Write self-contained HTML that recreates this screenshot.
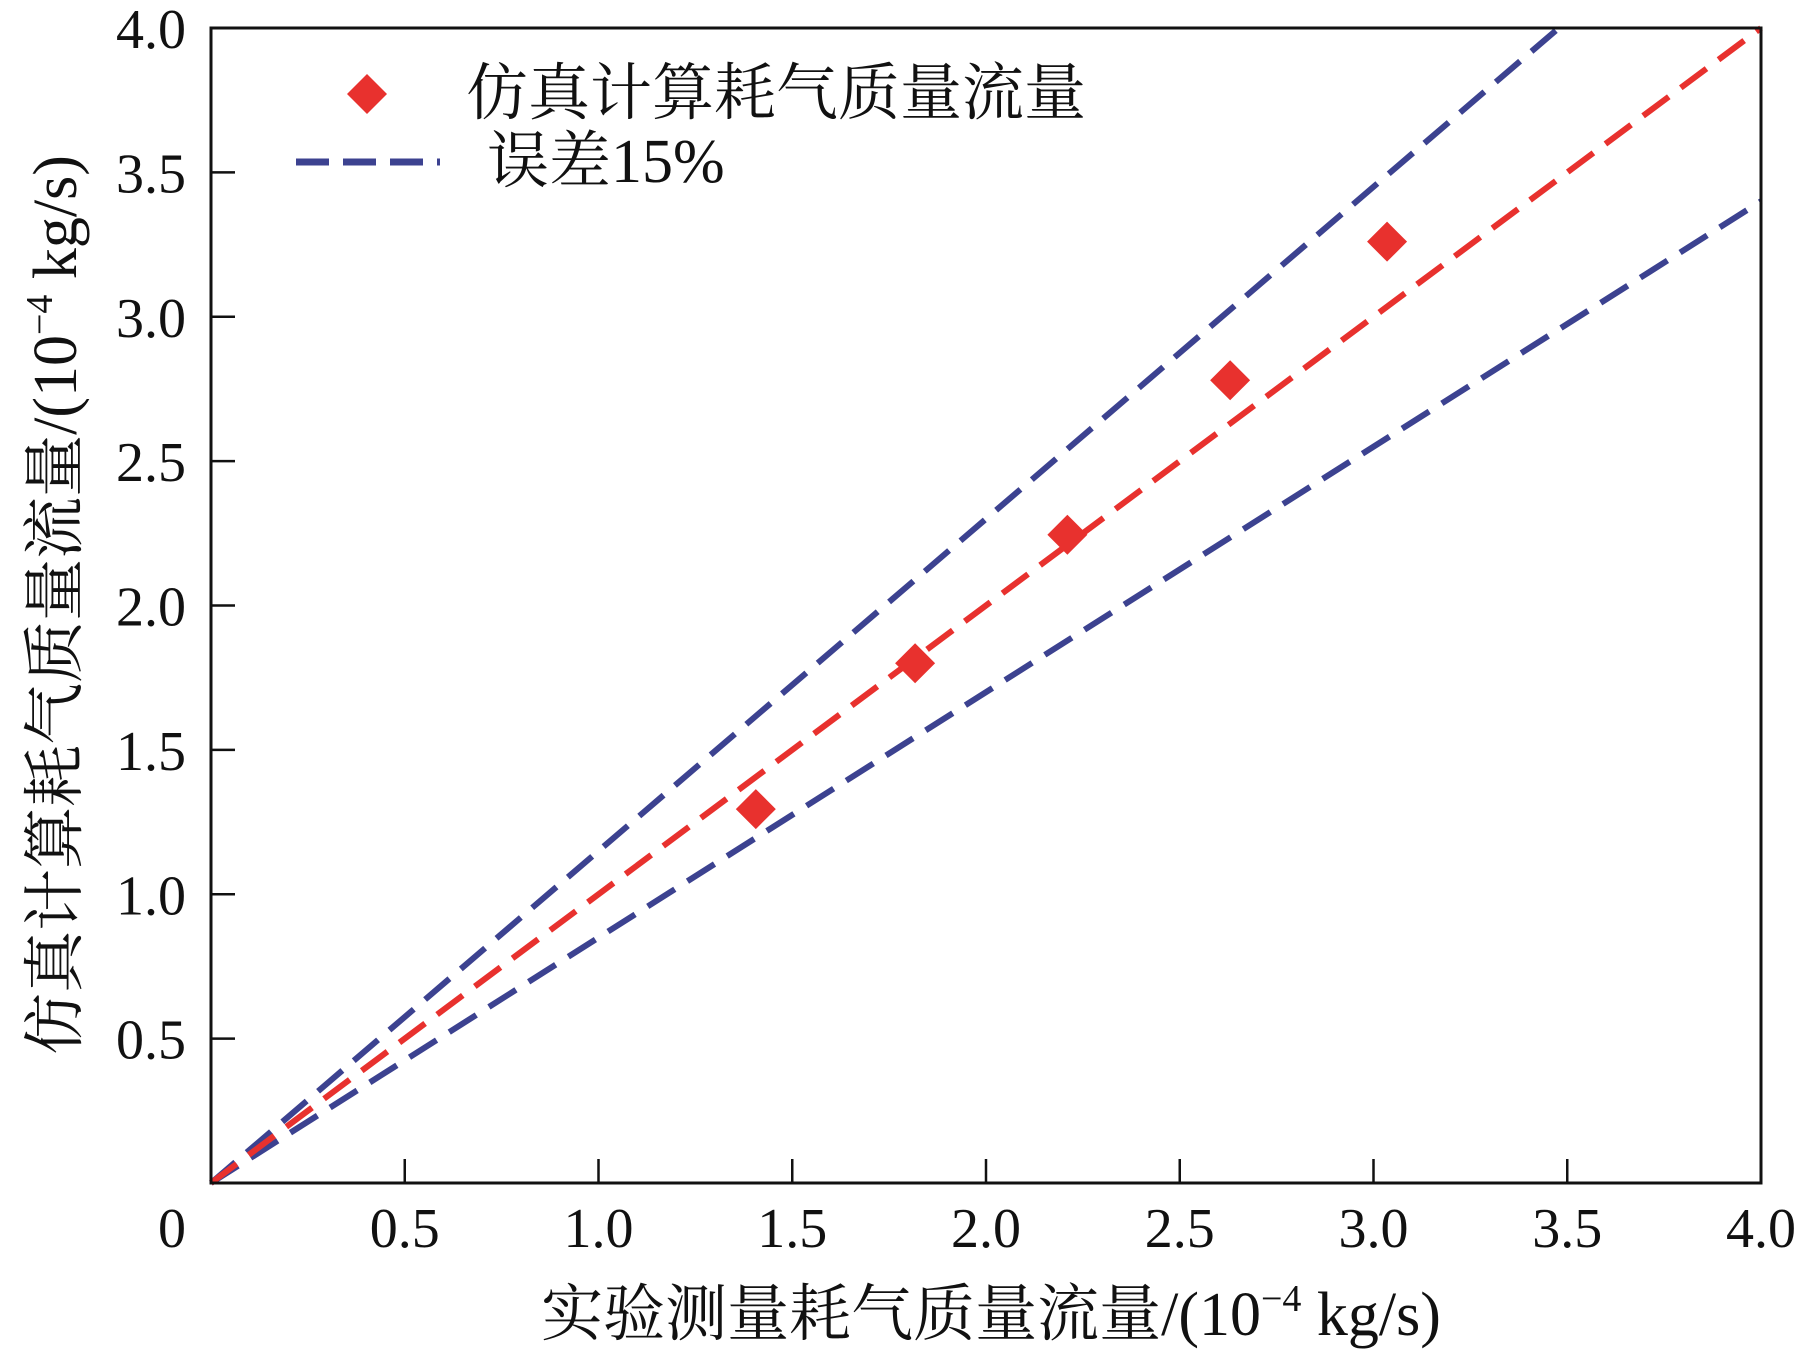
<!DOCTYPE html>
<html><head><meta charset="utf-8">
<style>
html,body{margin:0;padding:0;background:#fff;}
svg{display:block;}
text{font-family:"Liberation Serif","Noto Serif CJK SC",serif;fill:#111;}
</style></head>
<body>
<svg id="chart" width="1802" height="1352" viewBox="0 0 1802 1352" xmlns="http://www.w3.org/2000/svg">
<g id="plot"></g>
<g id="axes"></g>
<g id="legend">
  <g>
    <polygon points="367,74 387,94 367,114 347,94" fill="#e8312e"/>
    <text x="466" y="114" font-size="62">仿真计算耗气质量流量</text>
  </g>
  <g>
    <line x1="296" y1="162" x2="440" y2="162" stroke="#3c4290" stroke-width="7" stroke-dasharray="33,14"/>
    <text x="487" y="182" font-size="62">误差15%</text>
  </g>
</g>
<text x="991" y="1335" font-size="62" text-anchor="middle">实验测量耗气质量流量/(10<tspan font-size="38" dy="-24">−4</tspan><tspan dy="24"> kg/s)</tspan></text>
<text transform="translate(76,605) rotate(-90)" font-size="62" text-anchor="middle">仿真计算耗气质量流量/(10<tspan font-size="38" dy="-24">−4</tspan><tspan dy="24"> kg/s)</tspan></text>
</svg>
<script>
var xTicks=[0.5,1.0,1.5,2.0,2.5,3.0,3.5,4.0];
var xTickLabels=["0.5","1.0","1.5","2.0","2.5","3.0","3.5","4.0"];
var yTicks=[0.5,1.0,1.5,2.0,2.5,3.0,3.5,4.0];
var yTickLabels=["0.5","1.0","1.5","2.0","2.5","3.0","3.5","4.0"];
var measured=[1.406,1.817,2.21,2.63,3.035];
var simulated=[1.295,1.80,2.245,2.78,3.26];
var errorFactors=[1.15,0.85];
var refFactor=[1.0];
var L=211,R=1761,T=28,B=1183,XMAX=4,YMAX=4;
function sx(v){return L+(R-L)*v/XMAX;}
function sy(v){return B-(B-T)*v/YMAX;}
var NS="http://www.w3.org/2000/svg";
var plot=document.getElementById('plot'), axes=document.getElementById('axes');
function mk(tag,attrs,parent){var e=document.createElementNS(NS,tag);for(var k in attrs)e.setAttribute(k,attrs[k]);parent.appendChild(e);return e;}
function lineFor(f,color,name){
  var x2=XMAX,y2=f*XMAX; if(y2>YMAX){y2=YMAX;x2=YMAX/f;}
  var l=mk('line',{x1:sx(0),y1:sy(0),x2:sx(x2),y2:sy(y2),stroke:color,'stroke-width':6,'stroke-dasharray':'32,15'},plot);
  
  
}
errorFactors.forEach(function(f,i){lineFor(f,'#3c4290',i===0?'upper-error-line':'lower-error-line');});
refFactor.forEach(function(f){lineFor(f,'#e8312e','reference-line');});
measured.forEach(function(m,i){
  var cx=sx(m),cy=sy(simulated[i]);
  var p=mk('polygon',{points:cx+','+(cy-20)+' '+(cx+20)+','+cy+' '+cx+','+(cy+20)+' '+(cx-20)+','+cy,fill:'#e8312e'},plot);
  
  
});
var frame=mk('rect',{x:L,y:T,width:R-L,height:B-T,fill:'none',stroke:'#111','stroke-width':3},axes);


xTicks.forEach(function(v,i){
  var x=sx(v);
  if(v<XMAX){var t=mk('line',{x1:x,y1:B,x2:x,y2:B-24,stroke:'#111','stroke-width':2.5},axes);
  
  }
  var tx=mk('text',{x:x,y:1247,'font-size':56,'text-anchor':'middle'},axes);
  tx.textContent=xTickLabels[i];
  
  
});
var z=mk('text',{x:172,y:1247,'font-size':56,'text-anchor':'middle'},axes);
z.textContent='0';


yTicks.forEach(function(v,i){
  var y=sy(v);
  if(v<YMAX){var t=mk('line',{x1:L,y1:y,x2:L+24,y2:y,stroke:'#111','stroke-width':2.5},axes);
  
  }
  var tx=mk('text',{x:186,y:y+20,'font-size':56,'text-anchor':'end'},axes);
  tx.textContent=yTickLabels[i];
  
  
});
</script>
</body></html>
